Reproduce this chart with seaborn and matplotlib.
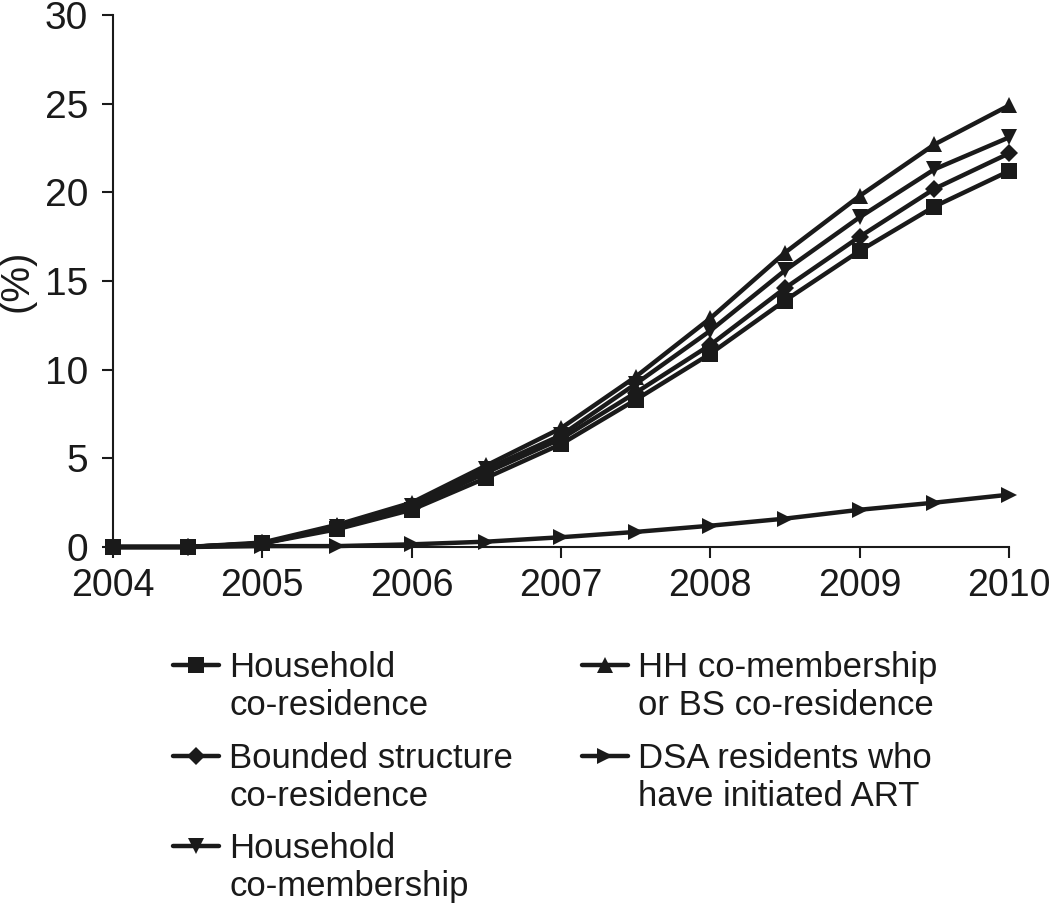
import matplotlib
matplotlib.use("Agg")
import matplotlib.pyplot as plt
from matplotlib.lines import Line2D
import seaborn as sns
import pandas as pd

years = [2004, 2004.5, 2005, 2005.5, 2006, 2006.5, 2007, 2007.5, 2008, 2008.5, 2009, 2009.5, 2010]
series_names = [
    "Household\nco-residence",
    "Bounded structure\nco-residence",
    "Household\nco-membership",
    "HH co-membership\nor BS co-residence",
    "DSA residents who\nhave initiated ART",
]
hh_coresidence = [0, 0, 0.2, 1.0, 2.1, 3.9, 5.8, 8.3, 10.9, 13.9, 16.7, 19.2, 21.2]
bs_coresidence = [0, 0, 0.2, 1.1, 2.2, 4.2, 6.1, 8.7, 11.4, 14.6, 17.5, 20.2, 22.2]
hh_comembership = [0, 0, 0.2, 1.15, 2.3, 4.4, 6.3, 9.2, 12.2, 15.6, 18.6, 21.3, 23.1]
hh_or_bs = [0, 0, 0.25, 1.25, 2.5, 4.6, 6.7, 9.6, 12.9, 16.6, 19.8, 22.7, 24.9]
art_initiated = [0, 0, 0.05, 0.05, 0.15, 0.3, 0.55, 0.85, 1.2, 1.6, 2.1, 2.5, 2.95]
x_ticks = [2004, 2005, 2006, 2007, 2008, 2009, 2010]
y_ticks = [0, 5, 10, 15, 20, 25, 30]

values = [hh_coresidence, bs_coresidence, hh_comembership, hh_or_bs, art_initiated]
markers = ["s", "D", "v", "^", ">"]
msizes = [11, 9, 12, 12, 12]

rows = []
for name, vals in zip(series_names, values):
    for x, v in zip(years, vals):
        rows.append({"year": x, "value": v, "series": name})
df = pd.DataFrame(rows)

sns.set_style("ticks")
plt.rcParams["font.family"] = ["Liberation Sans", "DejaVu Sans"]

fig = plt.figure(figsize=(10.5, 9.17), dpi=100)
ax = fig.add_axes([0.1076, 0.4035, 0.8534, 0.5801])

for name, mk, ms in zip(series_names, markers, msizes):
    sub = df[df["series"] == name]
    sns.lineplot(data=sub, x="year", y="value", ax=ax, color="#1a1a1a",
                 linewidth=3.2, marker=mk, markersize=ms, markeredgewidth=0,
                 legend=False, clip_on=False, zorder=3)

ax.set_xlim(2004, 2010)
ax.set_ylim(0, 30)
ax.set_xticks(x_ticks)
ax.set_yticks(y_ticks)
ax.set_xticklabels([str(t) for t in x_ticks])
ax.set_yticklabels([str(t) for t in y_ticks])
ax.tick_params(axis="both", labelsize=27, length=8, width=1.5, color="#1a1a1a",
               labelcolor="#1a1a1a", direction="out")
ax.tick_params(axis="y", pad=10, labelsize=28)
ax.tick_params(axis="x", pad=7)
ax.set_xlabel("")
ax.set_ylabel("(%)", fontsize=29, color="#1a1a1a")
ax.yaxis.set_label_coords(-0.086, 0.5)
for s in ["top", "right"]:
    ax.spines[s].set_visible(False)
for s in ["left", "bottom"]:
    ax.spines[s].set_linewidth(1.5)
    ax.spines[s].set_color("#1a1a1a")

handles = [Line2D([0], [0], color="#1a1a1a", lw=3.2, marker=mk, markersize=ms,
                  markeredgewidth=0) for mk, ms in zip(markers, msizes)]
leg = fig.legend(handles, series_names, loc="upper left",
                 bbox_to_anchor=(0.152, 0.305), ncol=2, frameon=False,
                 prop={"size": 25},
                 handlelength=1.3, handletextpad=0.3, columnspacing=2.0,
                 handleheight=1.1, labelspacing=0.55, borderaxespad=0)
for t in leg.get_texts():
    t.set_color("#1a1a1a")
# align each legend marker with the first line of its label
for col in leg._legend_handle_box.get_children():
    for item in col.get_children():
        item.align = "top"

fig.savefig("out.png", dpi=100)
